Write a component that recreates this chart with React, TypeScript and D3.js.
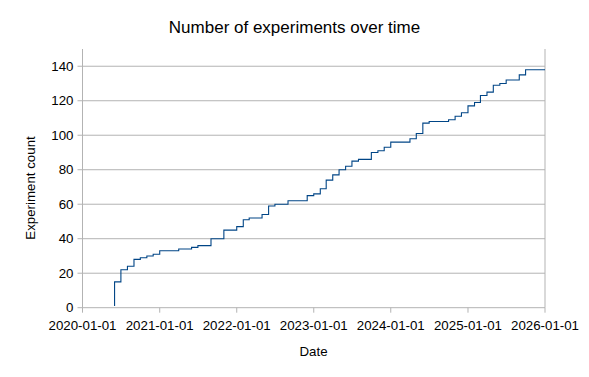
import React from "react";
import * as d3 from "d3";

const stepDates: string[] = [
  "2020-06-01", "2020-06-01", "2020-07-01", "2020-08-01", "2020-09-01", "2020-10-01",
  "2020-11-01", "2020-12-01", "2021-01-01", "2021-04-01", "2021-06-01", "2021-07-01",
  "2021-09-01", "2021-11-01", "2022-01-01", "2022-02-01", "2022-03-01", "2022-05-01",
  "2022-06-01", "2022-07-01", "2022-09-01", "2022-12-01", "2023-01-01", "2023-02-01",
  "2023-03-01", "2023-04-01", "2023-05-01", "2023-06-01", "2023-07-01", "2023-08-01",
  "2023-10-01", "2023-11-01", "2023-12-01", "2024-01-01", "2024-04-01", "2024-05-01",
  "2024-06-01", "2024-07-01", "2024-10-01", "2024-11-01", "2024-12-01", "2025-01-01",
  "2025-02-01", "2025-03-01", "2025-04-01", "2025-05-01", "2025-06-01", "2025-07-01",
  "2025-09-01", "2025-10-01",
];
const stepCounts: number[] = [
  1, 15, 22, 24, 28, 29,
  30, 31, 33, 34, 35, 36,
  40, 45, 47, 51, 52, 54,
  59, 60, 62, 65, 66, 69,
  74, 77, 80, 82, 85, 86,
  90, 91, 93, 96, 98, 101,
  107, 108, 109, 111, 113, 117,
  119, 123, 125, 129, 130, 132,
  135, 138,
];
const yTicks: number[] = [0, 20, 40, 60, 80, 100, 120, 140];
const xStart = "2020-01-01";
const xEnd = "2026-01-01";
const title = "Number of experiments over time";
const xTitle = "Date";
const yTitle = "Experiment count";

const W = 589;
const H = 377;
const left = 82.5;
const right = 545;
const top = 49;
const bottom = 307.7;
const FONT = "'Liberation Sans', Arial, sans-serif";
const GRID = "#b3b3b3";
const LINE = "#004586";

export default function App() {
  const parse = d3.utcParse("%Y-%m-%d");
  const x = d3.scaleUtc().domain([parse(xStart)!, parse(xEnd)!]).range([left, right]);
  const y = d3.scaleLinear().domain([0, 150]).range([bottom, top]);
  const pts: [Date, number][] = stepDates.map((d, i) => [parse(d)!, stepCounts[i]]);
  pts.push([parse(xEnd)!, stepCounts[stepCounts.length - 1]]);
  const line = d3
    .line<[Date, number]>()
    .x((d) => x(d[0]))
    .y((d) => y(d[1]))
    .curve(d3.curveStepAfter);
  const xTicks = x.ticks(d3.utcYear.every(1)!);
  const fmt = d3.utcFormat("%Y-%m-%d");

  return (
    <svg
      width={W}
      height={H}
      style={{ position: "absolute", left: 0, top: 0, background: "#fff" }}
      fontFamily={FONT}
    >
      <rect x={0} y={0} width={W} height={H} fill="#fff" />
      <text x={W / 2} y={33} textAnchor="middle" fontSize={17} fill="#000">
        {title}
      </text>
      {yTicks.map((t) => (
        <g key={t}>
          <line x1={left - 5} x2={right} y1={y(t)} y2={y(t)} stroke={GRID} strokeWidth={1} />
          <text
            x={left - 9}
            y={y(t)}
            textAnchor="end"
            dominantBaseline="central"
            fontSize={13.3}
            fill="#000"
          >
            {t}
          </text>
        </g>
      ))}
      <line x1={left} x2={left} y1={top} y2={bottom} stroke={GRID} strokeWidth={1} />
      <line x1={right} x2={right} y1={top} y2={bottom} stroke={GRID} strokeWidth={1} />
      {xTicks.map((t, i) => (
        <g key={i}>
          <line x1={x(t)} x2={x(t)} y1={bottom} y2={bottom + 5} stroke={GRID} strokeWidth={1} />
          <text x={x(t)} y={329.5} textAnchor="middle" fontSize={13.3} fill="#000">
            {fmt(t)}
          </text>
        </g>
      ))}
      <path d={line(pts) || ""} fill="none" stroke={LINE} strokeWidth={1.1} />
      <text x={313.5} y={355.5} textAnchor="middle" fontSize={13.3} fill="#000">
        {xTitle}
      </text>
      <text
        transform={`translate(34.5, 188) rotate(-90)`}
        textAnchor="middle"
        fontSize={13.3}
        fill="#000"
      >
        {yTitle}
      </text>
    </svg>
  );
}
